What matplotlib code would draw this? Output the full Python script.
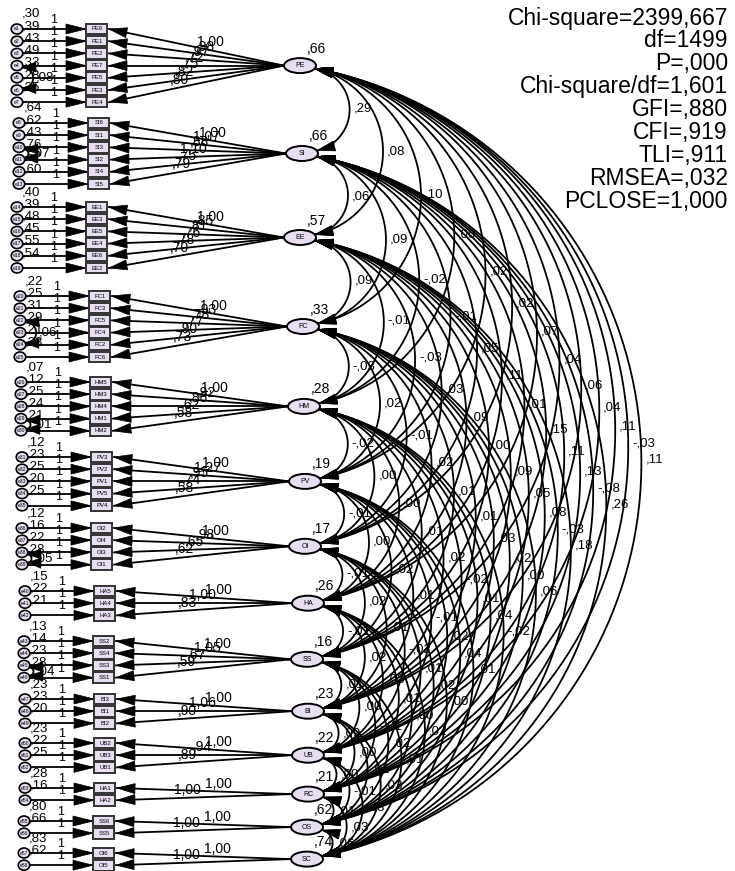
import numpy as np
import matplotlib.pyplot as plt
from matplotlib.patches import Ellipse, Rectangle, Polygon

plt.rcParams['font.family'] = ['Liberation Sans', 'DejaVu Sans']

# latent factors and their variances
factors = ['PE', 'SI', 'EE', 'FC', 'HM', 'PV', 'OI', 'HA', 'SS', 'BI', 'UB', 'RC', 'OS', 'SC']
factor_vars = [0.66, 0.66, 0.57, 0.33, 0.28, 0.19, 0.17, 0.26, 0.16, 0.23, 0.22, 0.21, 0.62, 0.74]

# observed indicators per factor
indicators = [
    ['PE6', 'PE1', 'PE2', 'PE7', 'PE5', 'PE3', 'PE4'],
    ['SI6', 'SI1', 'SI3', 'SI2', 'SI4', 'SI5'],
    ['EE1', 'EE3', 'EE5', 'EE4', 'EE6', 'EE2'],
    ['FC1', 'FC3', 'FC5', 'FC4', 'FC2', 'FC6'],
    ['HM5', 'HM3', 'HM4', 'HM1', 'HM2'],
    ['PV3', 'PV2', 'PV1', 'PV5', 'PV4'],
    ['OI2', 'OI4', 'OI3', 'OI1'],
    ['HA5', 'HA4', 'HA3'],
    ['SS2', 'SS4', 'SS3', 'SS1'],
    ['BI3', 'BI1', 'BI2'],
    ['UB2', 'UB3', 'UB1'],
    ['HA1', 'HA2'],
    ['SS6', 'SS5'],
    ['OI6', 'OI5'],
]

# unstandardised loadings
loadings = [
    [1.00, 0.98, 0.97, 0.72, 0.75, 0.82, 0.80],
    [1.00, 1.07, 0.88, 1.10, 0.75, 0.79],
    [1.00, 0.85, 0.81, 0.76, 0.78, 0.70],
    [1.00, 0.93, 0.78, 0.77, 0.90, 0.73],
    [1.00, 0.92, 0.86, 0.62, 0.58],
    [1.00, 1.27, 0.95, 0.74, 0.58],
    [1.00, 0.98, 0.65, 0.62],
    [1.00, 1.00, 0.83],
    [1.00, 1.05, 0.67, 0.59],
    [1.00, 1.06, 0.90],
    [1.00, 0.94, 0.89],
    [1.00, 1.00],
    [1.00, 1.00],
    [1.00, 1.00],
]

# error variances e1..e58
error_vars = [0.30, 0.39, 0.43, 0.49, 0.33, 0.28, 0.35,
              0.64, 0.62, 0.43, 0.76, 0.52, 0.60,
              0.40, 0.39, 0.48, 0.45, 0.55, 0.54,
              0.22, 0.25, 0.31, 0.29, 0.21, 0.23,
              0.07, 0.12, 0.25, 0.24, 0.21,
              0.12, 0.23, 0.25, 0.20, 0.25,
              0.12, 0.16, 0.22, 0.28,
              0.15, 0.22, 0.21,
              0.13, 0.14, 0.23, 0.28,
              0.23, 0.23, 0.20,
              0.23, 0.22, 0.25,
              0.28, 0.16,
              0.80, 0.66,
              0.83, 0.62]

# correlated errors (error numbers, covariance)
error_covs = [(4, 6, 0.08), (10, 11, 0.07), (22, 24, 0.06),
              (29, 30, 0.01), (38, 39, 0.05), (45, 46, 0.04)]

# factor covariances, row i = factor i with every later factor
factor_covs = [
    [0.29, 0.08, 0.10, 0.00, 0.02, 0.02, 0.07, 0.04, 0.06, 0.04, 0.11, -0.03, 0.11],
    [0.06, 0.09, -0.02, -0.01, 0.05, 0.11, 0.01, 0.15, 0.11, 0.13, -0.08, 0.26],
    [0.09, -0.01, -0.03, 0.03, 0.09, 0.00, 0.09, 0.05, 0.08, -0.03, 0.18],
    [-0.03, 0.02, -0.01, 0.02, 0.01, 0.01, 0.03, 0.02, 0.00, 0.06],
    [-0.02, 0.00, 0.00, 0.01, 0.02, -0.02, 0.01, 0.04, -0.02],
    [-0.01, 0.00, 0.02, 0.01, -0.01, 0.02, 0.04, 0.01],
    [-0.01, 0.02, 0.01, -0.02, 0.01, 0.02, 0.00],
    [-0.01, 0.02, 0.03, 0.01, 0.00, 0.02],
    [0.01, 0.00, -0.01, 0.02, 0.01],
    [0.09, 0.00, 0.01, 0.03],
    [0.00, -0.01, 0.03],
    [0.01, 0.03],
    [0.06],
]

fit_lines = ['Chi-square=2399,667', 'df=1499', 'P=,000', 'Chi-square/df=1,601',
             'GFI=,880', 'CFI=,919', 'TLI=,911', 'RMSEA=,032', 'PCLOSE=1,000']

# layout (pixel units)
block_top = [29, 123, 207, 296, 382, 457, 528, 591, 641, 699, 743, 788, 821, 853]
factor_x = [300, 302, 300, 303, 304, 305, 305, 308, 307, 308, 308, 308, 307, 307]
row_gap = 12.2
FILL = '#e7def1'
LW = 1.3


def amos(v):
    s = f"{v:.2f}"
    return s.replace('0.', '.', 1).replace('.', ',') if abs(v) < 1 else s.replace('.', ',')


def head(ax, tip, direction, length, width):
    d = np.asarray(direction, float)
    d = d / np.linalg.norm(d)
    p = np.array([-d[1], d[0]])
    tip = np.asarray(tip, float)
    base = tip - d * length
    ax.add_patch(Polygon([tip, base + p * width / 2, base - p * width / 2],
                         closed=True, fc='black', ec='black', lw=0.5, zorder=4))


def arc(p1, p2, ratio, n=90):
    p1 = np.asarray(p1, float)
    p2 = np.asarray(p2, float)
    c = np.linalg.norm(p2 - p1)
    s = ratio * c
    mid = (p1 + p2) / 2
    u = (p2 - p1) / c
    nrm = np.array([u[1], -u[0]])
    R = (s ** 2 + (c / 2) ** 2) / (2 * s)
    ctr = mid + nrm * (s - R)
    a1 = np.arctan2(p1[1] - ctr[1], p1[0] - ctr[0])
    a2 = np.arctan2(p2[1] - ctr[1], p2[0] - ctr[0])
    t = np.linspace(a1, a2, n)
    return ctr + R * np.c_[np.cos(t), np.sin(t)], mid + nrm * s


fig = plt.figure(figsize=(7.35, 8.71), dpi=100)
ax = fig.add_axes([0, 0, 1, 1])
ax.set_xlim(0, 735)
ax.set_ylim(871, 0)
ax.axis('off')

factor_y = []
err_pos = {}
e_num = 0
for k, name in enumerate(factors):
    items = indicators[k]
    n = len(items)
    rows = block_top[k] + row_gap * np.arange(n)
    fx = factor_x[k]
    fy = rows.mean()
    factor_y.append(fy)
    bx = fx - 203
    ex = fx - 283
    for i, (item, ld, ry) in enumerate(zip(items, loadings[k], rows)):
        e_num += 1
        err_pos[e_num] = (ex, ry)
        # error -> indicator
        ax.plot([ex + 5, bx - 12], [ry, ry], color='black', lw=LW, zorder=2)
        head(ax, (bx - 11, ry), (1, 0), 20, 10)
        ax.add_patch(Ellipse((ex, ry), 11.5, 10, fc=FILL, ec='black', lw=1.2, zorder=5))
        ax.text(ex, ry, f'e{e_num}', fontsize=3.6, ha='center', va='center', zorder=6)
        ax.text(ex + 5, ry - 15, amos(error_vars[e_num - 1]), fontsize=9.5,
                ha='left', va='center', zorder=3)
        ax.text(ex + 37, ry - 9, '1', fontsize=9, ha='center', va='center', zorder=3)
        # indicator box
        ax.add_patch(Rectangle((bx - 10.5, ry - 5.3), 21, 10.6, fc=FILL, ec='#333333',
                               lw=1.4, zorder=5))
        ax.text(bx, ry, item, fontsize=4.3, ha='center', va='center', zorder=6)
        # factor -> indicator
        sx, sy = fx - 16, fy
        tx, ty = bx + 12, ry
        ax.plot([sx, tx], [sy, ty], color='black', lw=LW, zorder=2)
        head(ax, (tx, ty), (tx - sx, ty - sy), 18, 10)
        t = 0.58 - 0.18 * (i / max(n - 1, 1))
        lx = tx + t * (sx - tx)
        ly = ty + t * (sy - ty) - 8
        ax.text(lx, ly, amos(ld), fontsize=10, ha='center', va='center', zorder=3)
    ax.add_patch(Ellipse((fx, fy), 32, 15, fc=FILL, ec='black', lw=1.4, zorder=5))
    ax.text(fx, fy, name, fontsize=5, ha='center', va='center', zorder=6)
    ax.text(fx + 7, fy - 17, amos(factor_vars[k]), fontsize=10, ha='left', va='center', zorder=3)

# correlated errors on the left
for a, b, v in error_covs:
    pa = np.array(err_pos[a]) + (5, 2)
    pb = np.array(err_pos[b]) + (5, -2)
    pts, top = arc(pa, pb, 0.55)
    ax.plot(pts[:, 0], pts[:, 1], color='black', lw=LW, zorder=4)
    head(ax, pts[0], pts[0] - pts[3], 14, 10)
    head(ax, pts[-1], pts[-1] - pts[-4], 14, 10)
    ax.text(top[0] + 3, top[1], amos(v), fontsize=9.5, ha='left', va='center', zorder=3)

# factor covariances on the right
for i in range(len(factors)):
    for j in range(i + 1, len(factors)):
        v = factor_covs[i][j - i - 1]
        p1 = (factor_x[i] + 15, factor_y[i] + 3)
        p2 = (factor_x[j] + 15, factor_y[j] - 3)
        pts, top = arc(p1, p2, 0.41)
        ax.plot(pts[:, 0], pts[:, 1], color='black', lw=LW, zorder=2)
        head(ax, pts[0], pts[0] - pts[2], 18, 10)
        head(ax, pts[-1], pts[-1] - pts[-3], 18, 10)
        ax.text(top[0] + 4, top[1], amos(v), fontsize=9.5, ha='left', va='center', zorder=3)

# fit indices
for k, line in enumerate(fit_lines):
    ax.text(728, 18 + 22.9 * k, line, fontsize=16.5, ha='right', va='center')

fig.savefig('out.png', dpi=100, facecolor='white')
